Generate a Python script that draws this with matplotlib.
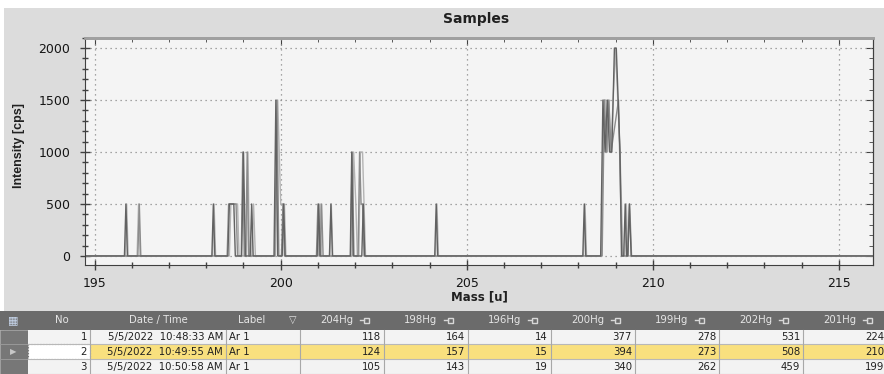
import matplotlib.pyplot as plt
from matplotlib.patches import Rectangle
from matplotlib.lines import Line2D
from matplotlib.ticker import MultipleLocator

plt.rcParams['font.family'] = ['DejaVu Sans']

# spectra of the three samples (mass [u], intensity [cps])
mass_1 = [194.75,
          195.80, 195.84, 195.88,
          198.15, 198.19, 198.23,
          198.58, 198.62, 198.74, 198.78,
          198.95, 199.00, 199.05,
          199.18, 199.22, 199.26,
          199.82, 199.87, 199.92,
          200.04, 200.08, 200.12,
          200.98, 201.02, 201.06,
          201.31, 201.35, 201.39,
          201.87, 201.91, 201.95,
          202.18, 202.22, 202.26,
          204.14, 204.18, 204.22,
          208.12, 208.16, 208.20,
          208.60, 208.66, 208.72, 208.78, 208.84, 208.90, 208.97, 209.02, 209.12, 209.16,
          209.22, 209.26, 209.30,
          209.33, 209.37, 209.42,
          215.92]
counts_1 = [0,
            0, 500, 0,
            0, 500, 0,
            0, 500, 500, 0,
            0, 1000, 0,
            0, 500, 0,
            0, 1500, 0,
            0, 500, 0,
            0, 500, 0,
            0, 500, 0,
            0, 1000, 0,
            0, 500, 0,
            0, 500, 0,
            0, 500, 0,
            0, 1500, 1000, 1500, 1000, 1000, 2000, 2000, 1000, 0,
            0, 500, 0,
            0, 500, 0,
            0]

mass_2 = [194.75,
          195.82, 195.86, 195.90,
          196.14, 196.18, 196.22,
          198.17, 198.21, 198.25,
          198.62, 198.66, 198.84, 198.88,
          199.08, 199.12, 199.16,
          199.22, 199.27, 199.32,
          199.86, 199.92, 199.96, 200.00, 200.10, 200.14,
          201.02, 201.06, 201.10,
          201.32, 201.36, 201.40,
          201.92, 201.96, 202.02, 202.06,
          202.10, 202.14, 202.20, 202.24, 202.28,
          204.16, 204.20, 204.24,
          208.14, 208.18, 208.22,
          208.62, 208.68, 208.74, 208.78, 208.82, 208.87, 209.00, 209.12, 209.16, 209.20,
          209.25, 209.29, 209.33,
          215.92]
counts_2 = [0,
            0, 500, 0,
            0, 500, 0,
            0, 500, 0,
            0, 500, 500, 0,
            0, 1000, 0,
            0, 500, 0,
            0, 1500, 1000, 500, 500, 0,
            0, 500, 0,
            0, 500, 0,
            0, 1000, 500, 0,
            0, 1000, 1000, 500, 0,
            0, 500, 0,
            0, 500, 0,
            0, 1500, 1500, 1000, 1500, 1000, 2000, 1000, 500, 0,
            0, 500, 0,
            0]

mass_3 = [194.75,
          196.16, 196.20, 196.24,
          198.56, 198.60, 198.80, 198.84,
          198.94, 198.98, 199.02,
          199.06, 199.10, 199.14,
          199.84, 199.90, 199.95,
          200.02, 200.06, 200.10,
          200.96, 201.00, 201.04,
          201.06, 201.10, 201.14,
          201.88, 201.92, 201.97,
          202.08, 202.12, 202.16, 202.20, 202.24,
          208.64, 208.70, 208.76, 208.82, 208.88, 209.08, 209.14, 209.18,
          209.33, 209.38, 209.43,
          215.92]
counts_3 = [0,
            0, 500, 0,
            0, 500, 500, 0,
            0, 1000, 0,
            0, 1000, 0,
            0, 1500, 0,
            0, 500, 0,
            0, 500, 0,
            0, 500, 0,
            0, 1000, 0,
            0, 1000, 500, 500, 0,
            0, 1500, 1000, 1500, 1000, 1500, 500, 0,
            0, 500, 0,
            0]

# table below the chart
row_no = [1, 2, 3]
date_time = ['5/5/2022  10:48:33 AM', '5/5/2022  10:49:55 AM', '5/5/2022  10:50:58 AM']
labels = ['Ar 1', 'Ar 1', 'Ar 1']
isotopes = ['204Hg', '198Hg', '196Hg', '200Hg', '199Hg', '202Hg', '201Hg']
hg204 = [118, 124, 105]
hg198 = [164, 157, 143]
hg196 = [14, 15, 19]
hg200 = [377, 394, 340]
hg199 = [278, 273, 262]
hg202 = [531, 508, 459]
hg201 = [224, 210, 199]

W, H = 884, 374
fig = plt.figure(figsize=(W / 100, H / 100), dpi=100)
fig.patch.set_facecolor('white')
fig.add_artist(Rectangle((4 / W, 0), 1, 1 - 8 / H, transform=fig.transFigure,
                         facecolor='#dcdcdc', edgecolor='none', zorder=0))

# ---- chart ----
ax = fig.add_axes([85 / W, 1 - 265 / H, 788 / W, 227.3 / H])
ax.set_facecolor('#f4f4f4')
for m, c, col in [(mass_2, counts_2, '#b4b4b4'), (mass_3, counts_3, '#8c8c8c'),
                  (mass_1, counts_1, '#626262')]:
    ax.plot(m, c, color=col, lw=1.0)

ax.set_xlim(194.74, 215.92)
ax.set_ylim(-87, 2100)
ax.xaxis.set_major_locator(MultipleLocator(5))
ax.xaxis.set_minor_locator(MultipleLocator(1))
ax.yaxis.set_major_locator(MultipleLocator(500))
ax.yaxis.set_minor_locator(MultipleLocator(100))
ax.grid(True, which='major', linestyle=(0, (1, 3)), color='#8a8a8a', lw=0.9)
ax.tick_params(which='major', direction='inout', length=7, width=1, color='#404040',
               labelsize=9, labelcolor='#151515', pad=5)
ax.tick_params(which='minor', direction='inout', length=5, width=1, color='#404040')
ax.tick_params(axis='y', pad=7)
for s in ['left', 'bottom']:
    ax.spines[s].set_color('#404040')
ax.spines['top'].set_color('#a0a0a0')
ax.spines['top'].set_linewidth(2)
ax.spines['right'].set_color('#404040')

top = ax.secondary_xaxis('top')
top.xaxis.set_major_locator(MultipleLocator(5))
top.xaxis.set_minor_locator(MultipleLocator(1))
top.tick_params(which='both', direction='in', labeltop=False, color='#404040')
top.tick_params(which='major', length=5)
top.tick_params(which='minor', length=3)
top.spines['top'].set_color('#a0a0a0')
top.spines['top'].set_linewidth(2)
right = ax.secondary_yaxis('right')
right.yaxis.set_major_locator(MultipleLocator(500))
right.yaxis.set_minor_locator(MultipleLocator(100))
right.tick_params(which='both', direction='in', labelright=False, color='#404040')
right.tick_params(which='major', length=5)
right.tick_params(which='minor', length=3)
right.spines['right'].set_color('#404040')

fig.text(476 / W, 1 - 19 / H, 'Samples', ha='center', va='center',
         fontsize=10, fontweight='bold', color='#202020')
fig.text(19 / W, 1 - 146 / H, 'Intensity [cps]', ha='center', va='center',
         rotation=90, fontsize=9, fontweight='bold', color='#202020',
         family=['Liberation Sans'])
fig.text(479 / W, 1 - 297 / H, 'Mass [u]', ha='center', va='center',
         fontsize=8.5, fontweight='bold', color='#202020')

# ---- table ----
tab = fig.add_axes([0, 0, 1, 63 / H])
tab.set_xlim(0, W)
tab.set_ylim(63, 0)
tab.axis('off')

edges = [0, 28, 90, 226, 300, 384, 468, 551, 635, 719, 803, 887]
head_h = 18.5
row_h = 14.8
head_col = '#6b6b6b'
fs = 7.3

tab.add_patch(Rectangle((0, 0), 887, head_h, facecolor=head_col, edgecolor='none'))
tab.text(13, head_h / 2, '\u25a6', ha='center', va='center', fontsize=8, color='#c9d8ee')
tab.text(62, head_h / 2, 'No', ha='center', va='center', fontsize=fs, color='#e6e6e6')
tab.text(158, head_h / 2, 'Date / Time', ha='center', va='center', fontsize=fs, color='#e6e6e6')
tab.text(252, head_h / 2, 'Label', ha='center', va='center', fontsize=fs, color='#e6e6e6')
tab.text(293, head_h / 2, '\u25bd', ha='center', va='center', fontsize=7, color='#e6e6e6')
for j, name in enumerate(isotopes):
    left = edges[4 + j]
    tab.text(left + 37, head_h / 2, name, ha='center', va='center', fontsize=fs, color='#e6e6e6')
    px = left + 65
    tab.add_line(Line2D([px - 5, px - 1], [head_h / 2, head_h / 2], color='#d8d8d8', lw=1))
    tab.add_patch(Rectangle((px - 1, head_h / 2 - 2.5), 5, 5, facecolor='none',
                            edgecolor='#d8d8d8', lw=1))

cols = [hg204, hg198, hg196, hg200, hg199, hg202, hg201]
for i in range(3):
    y0 = head_h + i * row_h
    sel = (i == 1)
    tab.add_patch(Rectangle((0, y0), 28, row_h, facecolor='#777777',
                            edgecolor='#9a9a9a', lw=0.6))
    if sel:
        tab.text(13, y0 + row_h / 2, '\u25b6', ha='center', va='center', fontsize=6,
                 color='#c8c8c8')
    fill = '#f9e07e' if sel else '#f3f3f3'
    tab.add_patch(Rectangle((90, y0), 887 - 90, row_h, facecolor=fill, edgecolor='none'))
    no_fill = 'white' if sel else '#f3f3f3'
    tab.add_patch(Rectangle((28, y0), 62, row_h, facecolor=no_fill,
                            edgecolor='#707070' if sel else 'none',
                            lw=0.8, linestyle=':' if sel else '-'))
    for k in range(2, len(edges)):
        tab.add_line(Line2D([edges[k], edges[k]], [y0, y0 + row_h], color='#a8a8a8', lw=0.8))
    tab.add_line(Line2D([28, 887], [y0 + row_h, y0 + row_h], color='#b8b8b8', lw=0.8))
    mid = y0 + row_h / 2 + 0.5
    tab.text(edges[2] - 3, mid, str(row_no[i]), ha='right', va='center', fontsize=fs, color='#202020')
    tab.text(edges[3] - 3, mid, date_time[i], ha='right', va='center', fontsize=fs, color='#202020')
    tab.text(edges[3] + 3, mid, labels[i], ha='left', va='center', fontsize=fs, color='#202020')
    for j, vals in enumerate(cols):
        tab.text(edges[5 + j] - 3, mid, str(vals[i]), ha='right', va='center',
                 fontsize=fs, color='#202020')

fig.savefig('out.png', dpi=100)
